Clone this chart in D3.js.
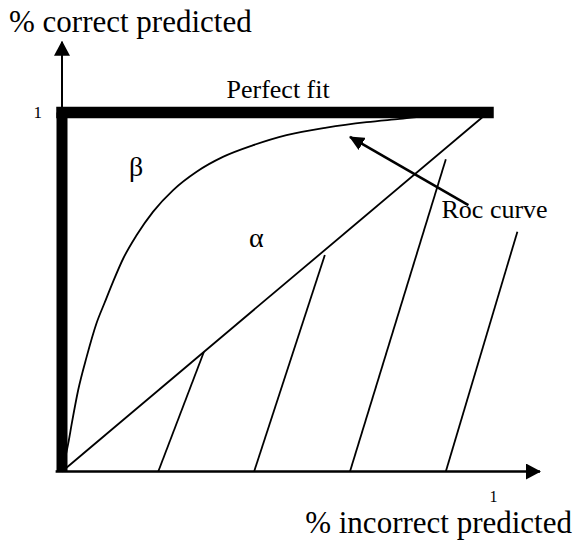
<!DOCTYPE html>
<html>
<head>
<meta charset="utf-8">
<script src="https://cdn.jsdelivr.net/npm/d3@7"></script>
<style>
  html, body { margin: 0; padding: 0; background: #ffffff; }
</style>
</head>
<body>
<div id="chart"></div>
<script>
// Values (x = % incorrect predicted, y = % correct predicted).
var rocCurve = [[0, 0], [0.0148, 0.079], [0.023, 0.134], [0.038, 0.227], [0.058, 0.320],
                [0.081, 0.413], [0.100, 0.470], [0.120, 0.529], [0.144, 0.594],
                [0.175, 0.658], [0.214, 0.724], [0.261, 0.784], [0.316, 0.835],
                [0.379, 0.877], [0.449, 0.909], [0.527, 0.937], [0.621, 0.958],
                [0.715, 0.973], [0.793, 0.982], [0.90, 0.995], [1, 1]];
var randomLine = [[0, 0], [1, 1]];
var perfectFitVertical = [[0, 0], [0, 1]];
var perfectFitTop = [[0, 1], [1, 1]];
// Hatch strokes under the diagonal: [x at bottom, top x, top y].
var hatches = [[0.226, 0.333, 0.333], [0.451, 0.617, 0.603],
               [0.676, 0.901, 0.870], [0.901, 1.069, 0.668]];
// Pointer from the "Roc curve" label to the curve.
var pointer = [[0.954, 0.742], [0.676, 0.932]];
var xTicks = [1];
var yTicks = [1];
var xAxisEnd = 1.122;
var yAxisEnd = 1.197;

var serif = "'Liberation Serif', 'Times New Roman', Times, serif";

// 1. Sizes and scales.
var width = 574;
var height = 548;
var xScale = d3.scaleLinear().domain([0, 1]).range([62, 488]);
var yScale = d3.scaleLinear().domain([0, 1]).range([471.5, 112.5]);

var svg = d3.select("#chart").append("svg")
            .attr("width", width)
            .attr("height", height);

// 2. Arrow heads.
var defs = svg.append("defs");
function addArrow(id, len, wid) {
  defs.append("marker")
    .attr("id", id)
    .attr("markerUnits", "userSpaceOnUse")
    .attr("viewBox", "0 0 " + len + " " + wid)
    .attr("refX", len - 1)
    .attr("refY", wid / 2)
    .attr("markerWidth", len)
    .attr("markerHeight", wid)
    .attr("orient", "auto")
    .append("path")
    .attr("d", "M0,0L" + len + "," + (wid / 2) + "L0," + wid + "Z")
    .attr("fill", "#000");
}
addArrow("axisArrow", 15, 16);
addArrow("pointerArrow", 15, 14);

var line = d3.line()
  .x(function (d) { return xScale(d[0]); })
  .y(function (d) { return yScale(d[1]); });

// 3. Axes with arrows.
svg.append("line")
  .attr("x1", xScale(-0.015)).attr("y1", yScale(0))
  .attr("x2", xScale(xAxisEnd)).attr("y2", yScale(0))
  .attr("stroke", "#000").attr("stroke-width", 2.5)
  .attr("marker-end", "url(#axisArrow)");
svg.append("line")
  .attr("x1", xScale(0)).attr("y1", yScale(0))
  .attr("x2", xScale(0)).attr("y2", yScale(yAxisEnd))
  .attr("stroke", "#000").attr("stroke-width", 2)
  .attr("marker-end", "url(#axisArrow)");

var xAxis = d3.axisBottom(xScale).tickValues(xTicks).tickSize(0).tickPadding(19)
  .tickFormat(d3.format("d"));
var gx = svg.append("g")
  .attr("transform", "translate(0," + yScale(0) + ")")
  .call(xAxis)
  .attr("font-family", serif)
  .attr("font-size", 16);
gx.select(".domain").remove();
gx.selectAll("text").attr("x", 5).attr("fill", "#000");

var yAxis = d3.axisLeft(yScale).tickValues(yTicks).tickSize(0).tickPadding(20)
  .tickFormat(d3.format("d"));
var gy = svg.append("g")
  .attr("transform", "translate(" + xScale(0) + ",0)")
  .call(yAxis)
  .attr("font-family", serif)
  .attr("font-size", 17);
gy.select(".domain").remove();
gy.selectAll("text").attr("fill", "#000");

// 4. Hatch strokes, diagonal and roc curve.
svg.selectAll(".hatch").data(hatches)
  .enter().append("path")
  .attr("class", "hatch")
  .attr("d", function (d) { return line([[d[0], 0], [d[1], d[2]]]); })
  .attr("fill", "none").attr("stroke", "#000").attr("stroke-width", 1.8);

svg.append("path")
  .attr("d", line(randomLine))
  .attr("fill", "none").attr("stroke", "#000").attr("stroke-width", 1.8);

var curveLine = d3.line()
  .x(function (d) { return xScale(d[0]); })
  .y(function (d) { return yScale(d[1]); })
  .curve(d3.curveMonotoneX);
svg.append("path")
  .attr("d", curveLine(rocCurve))
  .attr("fill", "none").attr("stroke", "#000").attr("stroke-width", 1.8);

// 5. Perfect fit (thick).
svg.append("path")
  .attr("d", line(perfectFitVertical))
  .attr("fill", "none").attr("stroke", "#000").attr("stroke-width", 11)
  .attr("stroke-linecap", "butt");
svg.append("path")
  .attr("d", line(perfectFitTop))
  .attr("fill", "none").attr("stroke", "#000").attr("stroke-width", 11.5)
  .attr("stroke-linecap", "square");

// 6. Pointer arrow.
svg.append("path")
  .attr("d", line(pointer))
  .attr("fill", "none").attr("stroke", "#000").attr("stroke-width", 2.6)
  .attr("marker-end", "url(#pointerArrow)");

// 7. Texts.
function label(x, y, size, txt, anchor) {
  svg.append("text")
    .attr("x", x).attr("y", y)
    .attr("text-anchor", anchor || "start")
    .attr("font-family", serif)
    .attr("font-size", size)
    .attr("fill", "#000")
    .text(txt);
}
label(9, 31.5, 31, "% correct predicted");
label(572, 533, 31, "% incorrect predicted", "end");
label(226.5, 98, 26, "Perfect fit");
label(441.5, 218, 26, "Roc curve");
label(129, 176, 28, "β");
label(249, 246.5, 28, "α");
</script>
</body>
</html>
